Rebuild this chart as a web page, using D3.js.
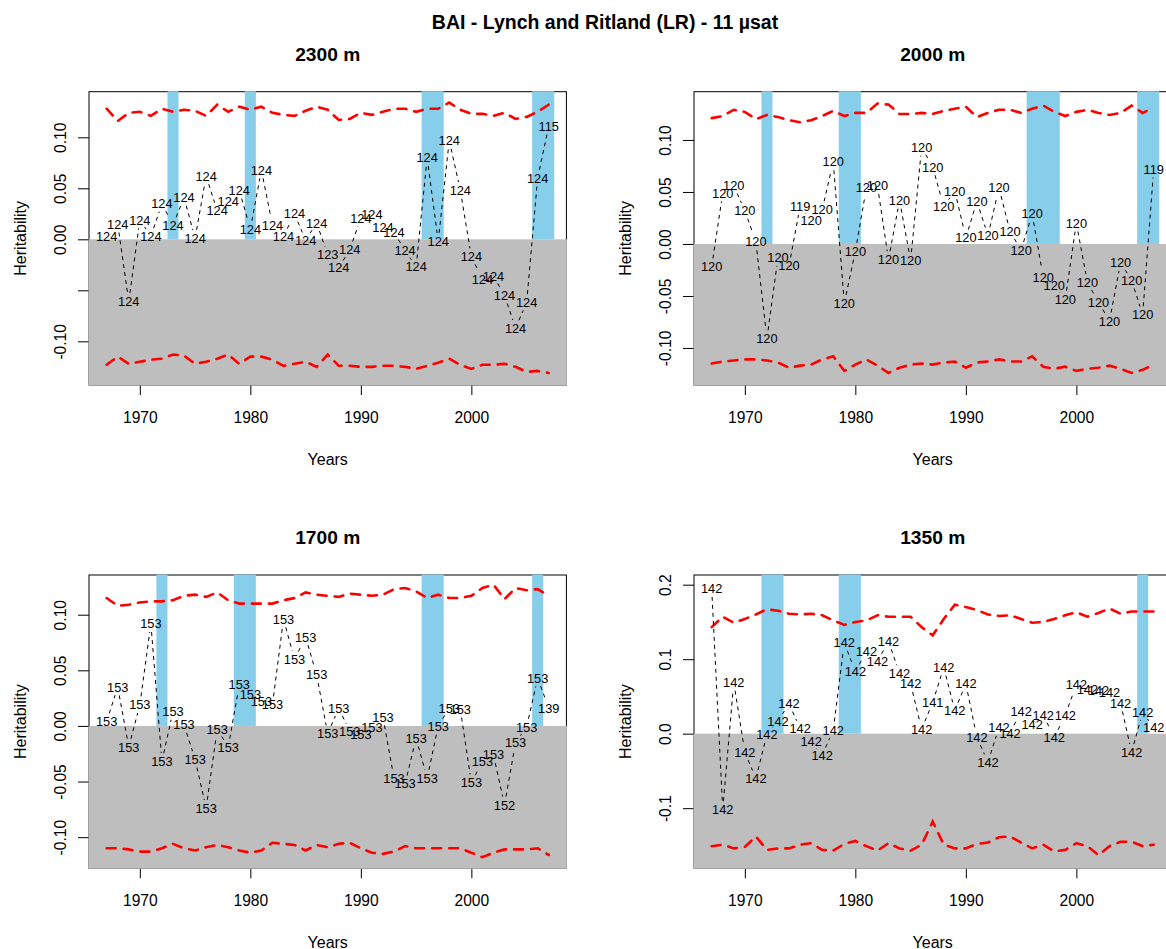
<!DOCTYPE html>
<html><head><meta charset="utf-8">
<script src="https://cdn.jsdelivr.net/npm/d3@7"></script>
<style>
body{margin:0;overflow:hidden;background:#fff}
text{font-family:"Liberation Sans",Arial,Helvetica,sans-serif}
</style>
</head><body>
<svg id="chart" width="1166" height="949"></svg>
<script>
// ---------------- data ----------------
const years = [1967,1968,1969,1970,1971,1972,1973,1974,1975,1976,1977,1978,1979,1980,1981,1982,1983,1984,1985,1986,1987,1988,1989,1990,1991,1992,1993,1994,1995,1996,1997,1998,1999,2000,2001,2002,2003,2004,2005,2006,2007];
const xTicks = [1970,1980,1990,2000];

// 2300 m
const h2300 = [0.003,0.015,-0.061,0.019,0.003,0.035,0.014,0.041,0.001,0.062,0.028,0.037,0.048,0.010,0.068,0.014,0.003,0.025,-0.001,0.016,-0.015,-0.028,-0.010,0.021,0.024,0.012,0.007,-0.011,-0.027,0.080,-0.002,0.097,0.048,-0.017,-0.039,-0.036,-0.055,-0.087,-0.062,0.060,0.111];
const n2300 = [124,124,124,124,124,124,124,124,124,124,124,124,124,124,124,124,124,124,124,124,123,124,124,124,124,124,124,124,124,124,124,124,124,124,124,124,124,124,124,124,115];
const up2300 = [0.128,0.116,0.124,0.125,0.121,0.128,0.125,0.127,0.126,0.121,0.132,0.125,0.130,0.127,0.130,0.124,0.122,0.121,0.126,0.130,0.127,0.117,0.118,0.124,0.122,0.125,0.128,0.128,0.125,0.128,0.128,0.134,0.127,0.123,0.123,0.121,0.124,0.118,0.120,0.125,0.132];
const lo2300 = [-0.123,-0.115,-0.122,-0.120,-0.118,-0.117,-0.113,-0.114,-0.122,-0.120,-0.117,-0.113,-0.122,-0.115,-0.115,-0.118,-0.124,-0.122,-0.120,-0.125,-0.113,-0.124,-0.124,-0.125,-0.125,-0.124,-0.124,-0.125,-0.127,-0.124,-0.121,-0.117,-0.123,-0.127,-0.123,-0.123,-0.122,-0.125,-0.130,-0.129,-0.131];
const blue2300 = [1973,1980,1996,1997,2006,2007];

// 2000 m
const h2000 = [-0.022,0.049,0.056,0.032,0.002,-0.091,-0.013,-0.021,0.036,0.023,0.033,0.079,-0.057,-0.007,0.054,0.056,-0.015,0.042,-0.016,0.093,0.074,0.036,0.051,0.006,0.041,0.008,0.054,0.012,-0.006,0.029,-0.032,-0.040,-0.053,0.020,-0.037,-0.056,-0.074,-0.018,-0.035,-0.068,0.072];
const n2000 = [120,120,120,120,120,120,120,120,119,120,120,120,120,120,120,120,120,120,120,120,120,120,120,120,120,120,120,120,120,120,120,120,120,120,120,120,120,120,120,120,119];
const up2000 = [0.121,0.123,0.129,0.127,0.120,0.124,0.122,0.119,0.117,0.119,0.123,0.128,0.123,0.126,0.126,0.135,0.134,0.125,0.125,0.126,0.125,0.128,0.130,0.132,0.122,0.126,0.129,0.129,0.126,0.130,0.133,0.127,0.123,0.127,0.129,0.126,0.124,0.126,0.133,0.126,0.131];
const lo2000 = [-0.115,-0.113,-0.112,-0.111,-0.111,-0.112,-0.114,-0.119,-0.117,-0.116,-0.111,-0.108,-0.122,-0.116,-0.111,-0.117,-0.124,-0.119,-0.116,-0.115,-0.116,-0.114,-0.113,-0.119,-0.114,-0.113,-0.111,-0.113,-0.113,-0.108,-0.118,-0.120,-0.118,-0.122,-0.120,-0.119,-0.117,-0.120,-0.124,-0.121,-0.116];
const blue2000 = [1972,1979,1980,1996,1997,1998,2006,2007];

// 1700 m
const h1700 = [0.004,0.035,-0.019,0.019,0.092,-0.032,0.013,0.001,-0.030,-0.074,-0.003,-0.019,0.037,0.028,0.022,0.019,0.096,0.060,0.080,0.046,-0.007,0.016,-0.005,-0.008,-0.001,0.008,-0.047,-0.052,-0.011,-0.047,0.000,0.016,0.015,-0.051,-0.032,-0.026,-0.071,-0.015,-0.001,0.043,0.016];
const n1700 = [153,153,153,153,153,153,153,153,153,153,153,153,153,153,153,153,153,153,153,153,153,153,153,153,153,153,153,153,153,153,153,153,153,153,153,153,152,153,153,153,139];
const up1700 = [0.115,0.108,0.109,0.111,0.112,0.112,0.113,0.117,0.118,0.116,0.120,0.113,0.110,0.110,0.110,0.110,0.113,0.115,0.120,0.118,0.117,0.116,0.119,0.118,0.117,0.118,0.123,0.124,0.121,0.115,0.118,0.115,0.115,0.117,0.124,0.127,0.114,0.124,0.122,0.123,0.117];
const lo1700 = [-0.110,-0.110,-0.111,-0.113,-0.113,-0.110,-0.106,-0.110,-0.112,-0.109,-0.107,-0.109,-0.112,-0.114,-0.112,-0.105,-0.106,-0.107,-0.112,-0.107,-0.109,-0.106,-0.105,-0.110,-0.114,-0.115,-0.113,-0.108,-0.110,-0.110,-0.110,-0.110,-0.110,-0.114,-0.118,-0.114,-0.111,-0.111,-0.111,-0.110,-0.116];
const blue1700 = [1972,1979,1980,1996,1997,2006];

// 1350 m
const h1350 = [0.195,-0.102,0.069,-0.025,-0.060,-0.001,0.017,0.040,0.007,-0.011,-0.029,0.005,0.122,0.083,0.111,0.097,0.124,0.081,0.067,0.006,0.042,0.089,0.031,0.067,-0.005,-0.038,0.008,0.001,0.030,0.012,0.025,-0.005,0.025,0.066,0.060,0.058,0.056,0.041,-0.025,0.029,0.008];
const n1350 = [142,142,142,142,142,142,142,142,142,142,142,142,142,142,142,142,142,142,142,142,141,142,142,142,142,142,142,142,142,142,142,142,142,142,142,142,142,142,142,142,142];
const up1350 = [0.143,0.157,0.149,0.154,0.160,0.167,0.165,0.161,0.160,0.161,0.159,0.152,0.146,0.150,0.152,0.159,0.157,0.157,0.157,0.143,0.132,0.154,0.173,0.170,0.166,0.160,0.158,0.159,0.154,0.149,0.150,0.154,0.159,0.163,0.157,0.162,0.168,0.161,0.164,0.164,0.164];
const lo1350 = [-0.151,-0.149,-0.154,-0.152,-0.138,-0.156,-0.154,-0.154,-0.149,-0.147,-0.156,-0.157,-0.148,-0.144,-0.151,-0.157,-0.147,-0.154,-0.157,-0.149,-0.118,-0.149,-0.154,-0.154,-0.148,-0.146,-0.139,-0.138,-0.146,-0.154,-0.149,-0.158,-0.156,-0.147,-0.151,-0.163,-0.151,-0.145,-0.145,-0.151,-0.149];
const blue1350 = [1972,1973,1979,1980,2006];

const yTicksA = [-0.10,-0.05,0.00,0.05,0.10];
const yLabels2300 = ["-0.10","","0.00","0.05","0.10"];
const yLabelsA = ["-0.10","-0.05","0.00","0.05","0.10"];
const yTicksB = [-0.1,0.0,0.1,0.2];
const yLabelsB = ["-0.1","0.0","0.1","0.2"];

const mainTitle = "BAI - Lynch and Ritland (LR) - 11 µsat";

// ---------------- layout ----------------
const svg = d3.select("#chart");
const PW = 477.4;
const panels = [
  {title:"2300 m", h:h2300, n:n2300, up:up2300, lo:lo2300, blue:blue2300, left:89,  top:91.7, bottom:385,   yDom:[-0.1428,0.1447], yt:yTicksA, yl:yLabels2300},
  {title:"2000 m", h:h2000, n:n2000, up:up2000, lo:lo2000, blue:blue2000, left:694, top:91.7, bottom:385,   yDom:[-0.1356,0.1464], yt:yTicksA, yl:yLabelsA},
  {title:"1700 m", h:h1700, n:n1700, up:up1700, lo:lo1700, blue:blue1700, left:89,  top:575,  bottom:868.3, yDom:[-0.1280,0.1357], yt:yTicksA, yl:yLabelsA},
  {title:"1350 m", h:h1350, n:n1350, up:up1350, lo:lo1350, blue:blue1350, left:694, top:575,  bottom:868.3, yDom:[-0.1807,0.2130], yt:yTicksB, yl:yLabelsB}
];

svg.append("text").attr("x",605).attr("y",29).attr("text-anchor","middle")
  .attr("font-size",19.5).attr("font-weight","bold").text(mainTitle);

function runs(list){
  const s=[...list].sort((a,b)=>a-b), out=[];
  s.forEach(v=>{ const r=out[out.length-1]; if(r && v===r[1]+1) r[1]=v; else out.push([v,v]); });
  return out;
}

panels.forEach(p=>{
  const x = d3.scaleLinear().domain([1965.4,2008.6]).range([p.left,p.left+PW]);
  const y = d3.scaleLinear().domain(p.yDom).range([p.bottom,p.top]);
  const g = svg.append("g");
  const cx = p.left+PW/2;

  // box
  g.append("rect").attr("x",p.left).attr("y",p.top).attr("width",PW).attr("height",p.bottom-p.top)
    .attr("fill","none").attr("stroke","#000").attr("stroke-width",1);

  // axes
  const ax = g.append("g").attr("transform",`translate(0,${p.bottom})`)
    .call(d3.axisBottom(x).tickValues(xTicks).tickFormat(d3.format("d")).tickSize(10).tickSizeOuter(0));
  ax.select(".domain").remove();
  ax.selectAll("text").attr("y",38).attr("dy",null).attr("font-size",15.6).attr("fill","#000")
    .attr("font-family","'Liberation Sans',Arial,sans-serif");
  ax.selectAll("line").attr("stroke","#000");

  const ay = g.append("g").attr("transform",`translate(${p.left},0)`)
    .call(d3.axisLeft(y).tickValues(p.yt).tickFormat((d,i)=>p.yl[i]).tickSize(11).tickSizeOuter(0));
  ay.select(".domain").remove();
  ay.selectAll("line").attr("stroke","#000");
  ay.selectAll("text").attr("transform","rotate(-90)").attr("x",0).attr("y",-23).attr("dy",null)
    .attr("text-anchor","middle").attr("font-size",15.6).attr("fill","#000")
    .attr("font-family","'Liberation Sans',Arial,sans-serif");

  // grey region below zero
  g.append("rect").attr("x",p.left-0.5).attr("y",y(0)).attr("width",PW+1).attr("height",p.bottom-y(0)+0.5)
    .attr("fill","#BEBEBE");

  // blue highlighted years
  g.selectAll("rect.blue").data(runs(p.blue)).enter().append("rect").attr("class","blue")
    .attr("x",d=>x(d[0]-0.5)).attr("width",d=>x(d[1]+0.5)-x(d[0]-0.5))
    .attr("y",p.top-0.5).attr("height",y(0)-p.top+0.5).attr("fill","#87CEEB");

  // red dashed confidence lines
  const line = d3.line().x((d,i)=>x(years[i])).y(d=>y(d));
  [p.up,p.lo].forEach(arr=>{
    g.append("path").attr("d",line(arr)).attr("fill","none").attr("stroke","#FF0000")
      .attr("stroke-width",2.6).attr("stroke-dasharray","9,8").attr("stroke-linecap","round");
  });

  // black dashed heritability line with gaps at points (R type "c")
  const gap = 8.5;
  const segs = [];
  for(let i=0;i<years.length-1;i++){
    const x1=x(years[i]), y1=y(p.h[i]), x2=x(years[i+1]), y2=y(p.h[i+1]);
    const dx=x2-x1, dy=y2-y1, d=Math.hypot(dx,dy);
    if(d>2*gap){ const ux=dx/d, uy=dy/d; segs.push([[x1+ux*gap,y1+uy*gap],[x2-ux*gap,y2-uy*gap]]); }
  }
  g.selectAll("path.seg").data(segs).enter().append("path").attr("class","seg")
    .attr("d",d=>d3.line()(d)).attr("fill","none").attr("stroke","#000")
    .attr("stroke-width",1).attr("stroke-dasharray","4,4");

  // sample size labels
  g.selectAll("text.n").data(p.n).enter().append("text").attr("class","n")
    .attr("x",(d,i)=>x(years[i])).attr("y",(d,i)=>y(p.h[i])).attr("dy","0.36em")
    .attr("text-anchor","middle").attr("font-size",12.8).attr("fill","#000").text(d=>d);

  // titles
  g.append("text").attr("x",cx).attr("y",p.top-31).attr("text-anchor","middle")
    .attr("font-size",19.2).attr("font-weight","bold").text(p.title);
  g.append("text").attr("x",cx).attr("y",p.bottom+80).attr("text-anchor","middle")
    .attr("font-size",16).text("Years");
  g.append("text").attr("transform",`translate(${p.left-63},${(p.top+p.bottom)/2}) rotate(-90)`)
    .attr("text-anchor","middle").attr("font-size",16).text("Heritability");
});
</script>
</body></html>
